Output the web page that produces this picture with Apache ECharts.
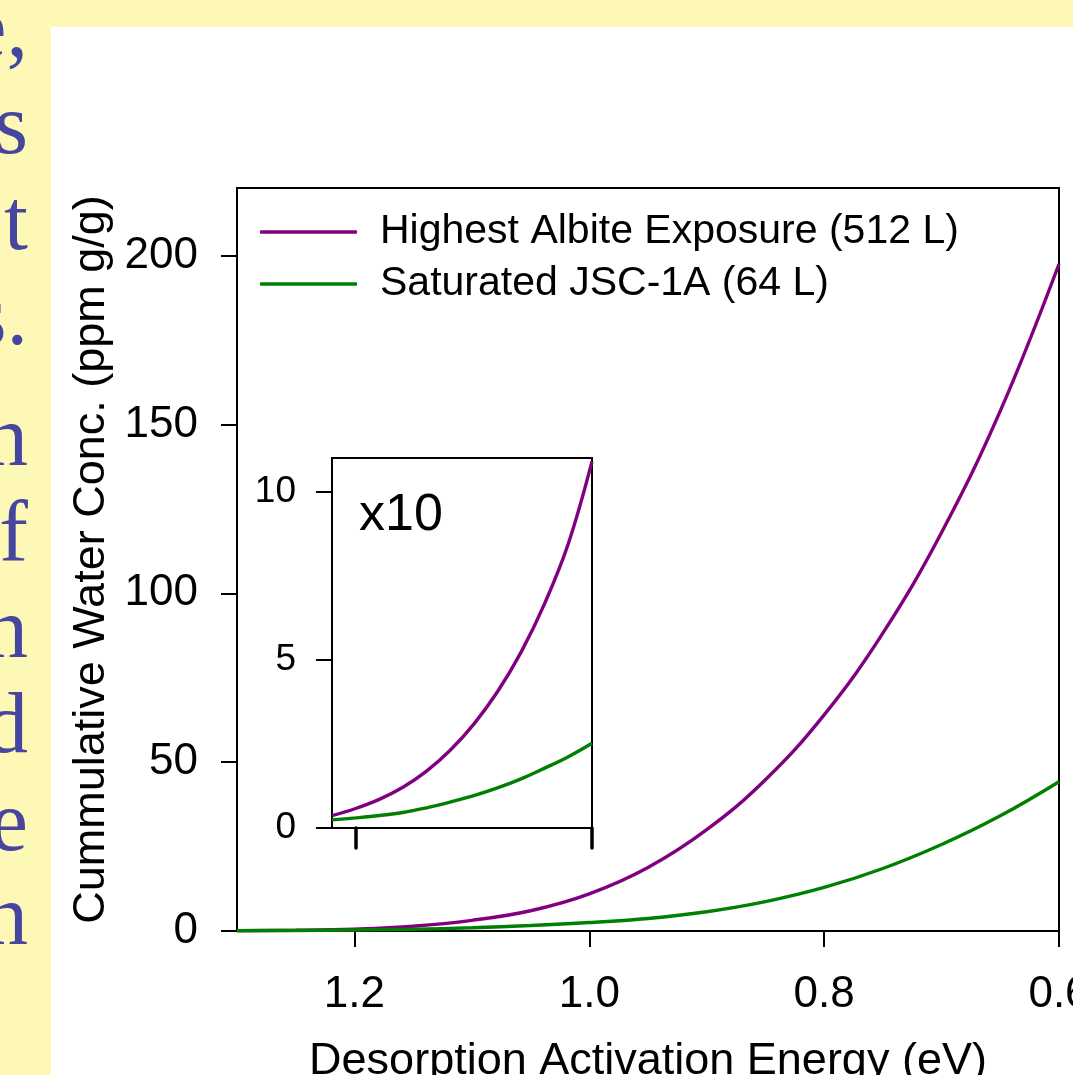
<!DOCTYPE html>
<html>
<head>
<meta charset="utf-8">
<script src="https://cdn.jsdelivr.net/npm/echarts@6/dist/echarts.min.js"></script>
<style>
html,body{margin:0;padding:0;background:#fff;}
#c{width:1073px;height:1075px;}
</style>
</head>
<body>
<div id="c"></div>
<script>
// Main panel: desorption activation energy (eV)
const energy = [1.30, 1.25, 1.20, 1.15, 1.10, 1.05, 1.00, 0.95, 0.90, 0.85, 0.80, 0.75, 0.70, 0.65, 0.60];
// Main panel: cumulative water concentration (ppm g/g)
const albite = [0.07, 0.20, 0.56, 1.42, 3.16, 6.0, 11.0, 18.8, 30.0, 44.8, 64.0, 88.2, 118.0, 154.0, 197.5];
const jsc = [0.09, 0.17, 0.30, 0.53, 0.96, 1.63, 2.52, 3.7, 5.7, 8.7, 12.9, 18.5, 25.6, 34.1, 44.2];
// Inset panel (x10 zoom of 1.22 - 1.00 eV)
const insetEnergy = [1.22, 1.20, 1.18, 1.16, 1.14, 1.12, 1.10, 1.08, 1.06, 1.04, 1.02, 1.00];
const insetAlbite = [0.37, 0.58, 0.85, 1.21, 1.69, 2.31, 3.09, 4.05, 5.23, 6.68, 8.46, 10.9];
const insetJsc = [0.24, 0.30, 0.37, 0.46, 0.60, 0.77, 0.96, 1.19, 1.46, 1.78, 2.12, 2.52];

const seriesNames = ['Highest Albite Exposure (512 L)', 'Saturated JSC-1A (64 L)'];
const seriesColors = ['#800080', '#008000'];
const xTicks = [1.2, 1.0, 0.8, 0.6];
const yTicks = [0, 50, 100, 150, 200];
const insetXTicks = [1.2, 1.0];
const insetYTicks = [0, 5, 10];
const sideFragments = ['e,', 's', 't', 's.', 'n', 'f', 'n', 'd', 'e', 'n'];
const sideBaselines = [62, 159, 255, 350, 471, 566, 663, 758, 856, 950];

const zip = (xs, ys) => xs.map((x, i) => [x, ys[i]]);
const SANS = 'Liberation Sans, Arial, sans-serif';

const chart = echarts.init(document.getElementById('c'), null, {renderer: 'canvas'});

const graphics = [
  {type: 'rect', shape: {x: 0, y: 0, width: 1073, height: 27}, style: {fill: '#FDF8B6'}, silent: true},
  {type: 'rect', shape: {x: 0, y: 0, width: 51, height: 1075}, style: {fill: '#FDF8B6'}, silent: true},
  {type: 'text', z: 100, style: {x: 359, y: 516, text: 'x10', font: '52px ' + SANS, fill: '#000', textAlign: 'left', textVerticalAlign: 'middle'}}
];
sideFragments.forEach((t, i) => {
  graphics.push({type: 'text', style: {x: 28, y: sideBaselines[i] - 29, text: t, font: '86px Liberation Serif, Times New Roman, serif', fill: '#4646A0', textAlign: 'right', textVerticalAlign: 'middle'}});
});

const axisLineStyle = {color: '#000', width: 2};
const lineSeries = (idx, axis, data, z) => ({
  name: seriesNames[idx], type: 'line', xAxisIndex: axis, yAxisIndex: axis,
  data: data,
  showSymbol: false, symbol: 'none', smooth: 0.4, clip: true,
  lineStyle: {color: seriesColors[idx], width: 3.4},
  itemStyle: {color: seriesColors[idx]}, z: z
});

const option = {
  backgroundColor: '#fff',
  animation: false,
  textStyle: {fontFamily: SANS},
  graphic: graphics,
  legend: {
    data: seriesNames.map((n, i) => ({name: n, icon: 'roundRect', itemStyle: {color: seriesColors[i]}})),
    orient: 'vertical',
    left: 260,
    top: 210,
    padding: 0,
    itemWidth: 97,
    itemHeight: 3.5,
    itemGap: 8,
    textStyle: {fontSize: 41, color: '#000', fontFamily: SANS, lineHeight: 44, padding: [0, 0, 0, 18]},
    selectedMode: false
  },
  grid: [
    {left: 237, top: 188, width: 822, height: 743, outerBoundsMode: 'none', containLabel: false, show: true, borderColor: '#000', borderWidth: 2, backgroundColor: 'transparent'},
    {left: 332, top: 458, width: 260, height: 370, outerBoundsMode: 'none', containLabel: false, show: true, borderColor: '#000', borderWidth: 2, backgroundColor: '#fff', z: 5}
  ],
  xAxis: [
    {
      type: 'value', gridIndex: 0, min: 0.6, max: 1.3, interval: 0.2, inverse: true,
      name: 'Desorption Activation Energy (eV)', nameLocation: 'middle', nameGap: 108,
      nameTextStyle: {fontSize: 45, color: '#000', fontFamily: SANS},
      axisLine: {lineStyle: axisLineStyle},
      axisTick: {show: true, length: 16, lineStyle: {color: '#000', width: 2}, customValues: xTicks},
      axisLabel: {fontSize: 44, color: '#000', margin: 42, fontFamily: SANS,
        customValues: xTicks, formatter: v => v.toFixed(1)},
      splitLine: {show: false}
    },
    {
      type: 'value', gridIndex: 1, min: 1.0, max: 1.22, interval: 0.2, inverse: true,
      axisLine: {lineStyle: axisLineStyle},
      axisTick: {show: true, length: 20, lineStyle: {color: '#000', width: 3.5, cap: 'round'}, customValues: insetXTicks},
      axisLabel: {show: false, customValues: insetXTicks},
      splitLine: {show: false},
      z: 6
    }
  ],
  yAxis: [
    {
      type: 'value', gridIndex: 0, min: 0, max: 220, interval: 50,
      name: 'Cummulative Water Conc. (ppm g/g)', nameLocation: 'middle', nameGap: 120,
      nameTextStyle: {fontSize: 45, color: '#000', fontFamily: SANS},
      axisLine: {lineStyle: axisLineStyle},
      axisTick: {show: true, length: 16, lineStyle: {color: '#000', width: 2}, customValues: yTicks},
      axisLabel: {fontSize: 44, color: '#000', margin: 39, fontFamily: SANS, customValues: yTicks},
      splitLine: {show: false}
    },
    {
      type: 'value', gridIndex: 1, min: 0, max: 11, interval: 5,
      axisLine: {lineStyle: axisLineStyle},
      axisTick: {show: true, length: 16, lineStyle: {color: '#000', width: 2}, customValues: insetYTicks},
      axisLabel: {fontSize: 37, color: '#000', margin: 36, fontFamily: SANS, customValues: insetYTicks},
      splitLine: {show: false},
      z: 6
    }
  ],
  series: [
    lineSeries(0, 0, zip(energy, albite), 2),
    lineSeries(1, 0, zip(energy, jsc), 2),
    lineSeries(0, 1, zip(insetEnergy, insetAlbite), 7),
    lineSeries(1, 1, zip(insetEnergy, insetJsc), 7)
  ]
};
chart.setOption(option);
</script>
</body>
</html>
